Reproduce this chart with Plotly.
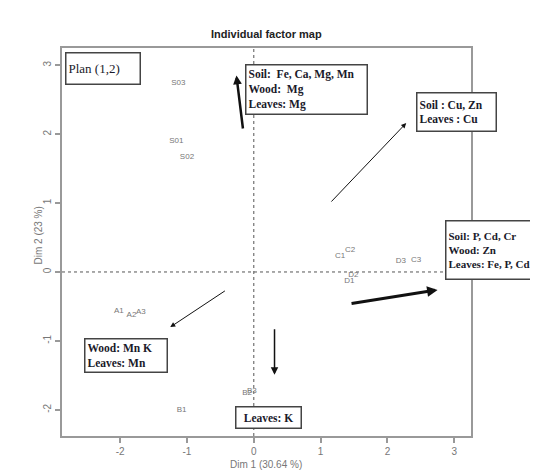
import plotly.graph_objects as go

# ---- data ----
ind_labels = ["S01", "S02", "S03", "A1", "A2", "A3", "B1", "B2", "B3",
              "C1", "C2", "C3", "D1", "D2", "D3"]
dim1 = [-1.16, -1.00, -1.13, -2.02, -1.83, -1.69, -1.08, -0.10, -0.03,
        1.29, 1.44, 2.43, 1.43, 1.49, 2.20]
dim2 = [1.90, 1.67, 2.74, -0.57, -0.62, -0.58, -2.00, -1.75, -1.73,
        0.23, 0.32, 0.17, -0.13, -0.04, 0.16]

arrow_tail_x = [-0.16, 1.14, 1.44, -0.41, 0.31]
arrow_tail_y = [2.06, 1.00, -0.46, -0.26, -0.81]
arrow_head_x = [-0.26, 2.28, 2.75, -1.25, 0.31]
arrow_head_y = [2.85, 2.16, -0.26, -0.80, -1.49]
arrow_width = [2.5, 1.0, 3.0, 1.0, 1.5]

box_texts = [
    "Plan (1,2)",
    "<b>Soil:  Fe, Ca, Mg, Mn<br>Wood:  Mg<br>Leaves: Mg</b>",
    "<b>Soil : Cu, Zn<br>Leaves : Cu</b>",
    "<b>Soil: P, Cd, Cr<br>Wood: Zn<br>Leaves: Fe, P, Cd</b>",
    "<b>Wood: Mn K<br>Leaves: Mn</b>",
    "<b>Leaves: K</b>",
]
x_ticks = [-2, -1, 0, 1, 2, 3]
y_ticks = [-2, -1, 0, 1, 2, 3]
x_ticktext = ["-2", "-1", "0", "1", "2", "3"]
y_ticktext = ["-2", "-1", "0", "1", "2", "3"]

# ---- layout geometry (pixels) ----
W, H = 538, 473
PL, PR, PT, PB = 54, 463, 40, 428
XR = [-2.87, 3.25]
YR = [-2.38, 3.25]

def px(xp):
    return (xp - PL) / (PR - PL)

def py(yp):
    return (PB - yp) / (PB - PT)

# box geometry: left, top, right, bottom (pixels), align, font size
boxes = [
    (57, 44, 133, 77, "left", 13),
    (237, 56, 360, 107, "left", 11.5),
    (408, 84, 489, 124, "left", 11.5),
    (437, 212, 537, 272, "left", 11),
    (76, 330, 160, 365, "left", 11.5),
    (227, 398, 294, 421, "center", 11.5),
]

fig = go.Figure()

fig.add_trace(go.Scatter(
    x=dim1, y=dim2, mode="text", text=ind_labels,
    textposition="middle center",
    textfont=dict(family="Liberation Sans", size=8, color="#777777"),
    hoverinfo="skip", showlegend=False, cliponaxis=False,
))

shapes = [
    dict(type="line", xref="x", yref="paper", x0=0, x1=0, y0=0, y1=1,
         line=dict(color="#555555", width=1, dash="dot"), layer="below"),
    dict(type="line", xref="paper", yref="y", x0=0, x1=1, y0=0, y1=0,
         line=dict(color="#555555", width=1, dash="dot"), layer="below"),
]

annotations = []
for tx, ty, hx, hy, w in zip(arrow_tail_x, arrow_tail_y, arrow_head_x, arrow_head_y, arrow_width):
    annotations.append(dict(
        x=hx, y=hy, ax=tx, ay=ty, xref="x", yref="y", axref="x", ayref="y",
        text="", showarrow=True, arrowhead=2,
        arrowsize=1.0 if w < 2 else 0.7, arrowwidth=w, arrowcolor="#111111",
    ))

pad = 2
bw = 1.5
for (l, t, r, b, al, fs), txt in zip(boxes, box_texts):
    annotations.append(dict(
        x=px(l), y=py(t), xref="paper", yref="paper",
        xanchor="left", yanchor="top", text=txt, showarrow=False,
        align=al, valign="middle",
        width=(r - l) - 2 * pad - 2 * bw, height=(b - t) - 2 * pad - 2 * bw,
        borderpad=pad, borderwidth=bw, bordercolor="#444444", bgcolor="white",
        font=dict(family="Liberation Serif", size=fs, color="#1a1a2a"),
    ))

annotations += [
    dict(x=px(258), y=py(18), xref="paper", yref="paper",
         text="<b>Individual factor map</b>", showarrow=False,
         font=dict(family="Liberation Sans", size=11, color="#222222")),
    dict(x=px(258), y=py(464), xref="paper", yref="paper",
         text="Dim 1 (30.64 %)", showarrow=False,
         font=dict(family="Liberation Sans", size=10, color="#777777")),
    dict(x=px(22), y=py(228), xref="paper", yref="paper", textangle=-90,
         text="Dim 2 (23 %)", showarrow=False,
         font=dict(family="Liberation Sans", size=10, color="#777777")),
]

axis_common = dict(
    showgrid=False, zeroline=False, showline=True, mirror=True,
    linecolor="#999999", linewidth=1.5, ticks="outside", ticklen=5,
    tickcolor="#999999", tickwidth=1.5,
    tickfont=dict(family="Liberation Sans", size=10, color="#777777"),
)

fig.update_layout(
    width=W, height=H,
    margin=dict(l=PL, r=W - PR, t=PT, b=H - PB),
    paper_bgcolor="white", plot_bgcolor="white",
    xaxis=dict(range=XR, tickvals=x_ticks, ticktext=x_ticktext, **axis_common),
    yaxis=dict(range=YR, tickvals=y_ticks, ticktext=y_ticktext, tickangle=-90, **axis_common),
    shapes=shapes, annotations=annotations, showlegend=False,
)

fig.write_html("out.html")
